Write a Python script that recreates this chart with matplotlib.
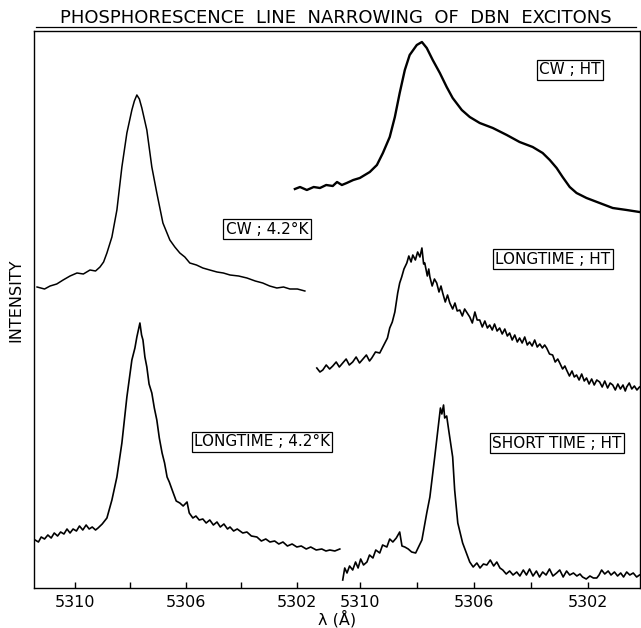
import matplotlib.pyplot as plt

# (wavelength in Angstrom, intensity in arbitrary units); spectra are stacked by offset
# left panel : 4.2 K spectra
cw42 = [(5311.37, 30.1), (5311.10, 29.9), (5310.90, 30.2), (5310.66, 30.4), (5310.43, 30.8),
        (5310.18, 31.2), (5309.93, 31.5), (5309.70, 31.4), (5309.46, 31.8), (5309.26, 31.7),
        (5309.10, 32.1), (5308.97, 32.6), (5308.85, 33.5), (5308.67, 35.1), (5308.49, 37.8),
        (5308.31, 42.1), (5308.13, 45.5), (5307.95, 47.8), (5307.86, 48.7), (5307.77, 49.3),
        (5307.68, 48.9), (5307.59, 48.0), (5307.41, 45.8), (5307.23, 42.1), (5307.05, 39.5),
        (5306.83, 36.5), (5306.58, 34.8), (5306.40, 34.1), (5306.22, 33.5), (5306.04, 33.1),
        (5305.86, 32.5), (5305.62, 32.3), (5305.39, 32.0), (5305.14, 31.8), (5304.88, 31.6),
        (5304.65, 31.5), (5304.41, 31.3), (5304.10, 31.2), (5303.80, 31.0), (5303.50, 30.7),
        (5303.23, 30.5), (5302.98, 30.2), (5302.72, 30.0), (5302.48, 30.1), (5302.25, 29.9),
        (5301.98, 29.9), (5301.71, 29.7)]

long42 = [(5311.44, 4.8), (5311.32, 4.6), (5311.22, 5.1), (5311.10, 4.9), (5310.98, 5.3),
          (5310.86, 5.0), (5310.75, 5.5), (5310.63, 5.2), (5310.52, 5.6), (5310.40, 5.4),
          (5310.29, 5.9), (5310.18, 5.5), (5310.07, 5.9), (5309.95, 5.7), (5309.84, 6.2),
          (5309.72, 5.8), (5309.60, 6.3), (5309.49, 5.9), (5309.38, 6.1), (5309.26, 5.8),
          (5309.17, 6.0), (5309.02, 6.4), (5308.85, 7.0), (5308.67, 8.8), (5308.49, 11.1),
          (5308.31, 14.5), (5308.13, 19.1), (5307.95, 22.8), (5307.84, 24.0), (5307.77, 25.1),
          (5307.66, 26.5), (5307.60, 25.3), (5307.55, 24.8), (5307.48, 23.1), (5307.41, 22.1),
          (5307.33, 20.4), (5307.23, 19.5), (5307.14, 18.0), (5307.05, 16.8), (5306.96, 15.0),
          (5306.86, 13.5), (5306.77, 12.5), (5306.68, 11.1), (5306.60, 10.6), (5306.47, 9.6),
          (5306.35, 8.7), (5306.22, 8.5), (5306.10, 8.2), (5305.96, 8.6), (5305.88, 7.5),
          (5305.75, 7.0), (5305.64, 7.2), (5305.52, 6.8), (5305.39, 6.9), (5305.27, 6.5),
          (5305.14, 6.8), (5305.01, 6.3), (5304.88, 6.6), (5304.76, 6.1), (5304.63, 6.4),
          (5304.50, 5.9), (5304.41, 6.1), (5304.28, 5.7), (5304.15, 5.9), (5303.95, 5.5),
          (5303.80, 5.6), (5303.64, 5.2), (5303.44, 5.1), (5303.28, 4.7), (5303.12, 4.9),
          (5302.97, 4.6), (5302.80, 4.7), (5302.65, 4.4), (5302.50, 4.6), (5302.34, 4.2),
          (5302.17, 4.4), (5302.00, 4.1), (5301.84, 4.2), (5301.66, 3.9), (5301.50, 4.1),
          (5301.30, 3.8), (5301.10, 3.9), (5300.95, 3.7), (5300.81, 3.8), (5300.63, 3.7),
          (5300.45, 3.9)]

# right panel : high temperature spectra
cwht = [(5312.28, 39.9), (5312.10, 40.1), (5311.86, 39.8), (5311.62, 40.1), (5311.40, 40.0),
        (5311.18, 40.3), (5310.95, 40.2), (5310.80, 40.6), (5310.63, 40.3), (5310.46, 40.5),
        (5310.23, 40.8), (5310.00, 41.0), (5309.65, 41.6), (5309.40, 42.3), (5309.19, 43.5),
        (5308.95, 45.1), (5308.77, 47.1), (5308.60, 49.5), (5308.42, 51.8), (5308.25, 53.3),
        (5308.00, 54.3), (5307.82, 54.6), (5307.65, 54.0), (5307.44, 52.8), (5307.19, 51.5),
        (5306.95, 50.1), (5306.74, 49.0), (5306.42, 47.8), (5306.14, 47.1), (5305.79, 46.5),
        (5305.33, 46.0), (5304.84, 45.3), (5304.39, 44.6), (5303.93, 44.1), (5303.58, 43.5),
        (5303.33, 42.8), (5303.09, 42.0), (5302.88, 41.1), (5302.63, 40.1), (5302.39, 39.5),
        (5302.04, 39.0), (5301.58, 38.5), (5301.12, 38.0), (5300.63, 37.8), (5300.18, 37.6)]

longht = [(5311.51, 22.0), (5311.40, 21.6), (5311.30, 21.8), (5311.18, 22.3), (5311.06, 21.9),
          (5310.95, 22.2), (5310.83, 22.6), (5310.72, 22.1), (5310.60, 22.5), (5310.48, 22.9),
          (5310.37, 22.3), (5310.25, 22.6), (5310.13, 23.1), (5310.01, 22.5), (5309.89, 22.9),
          (5309.77, 23.3), (5309.66, 22.7), (5309.58, 23.0), (5309.45, 23.6), (5309.30, 23.5),
          (5309.12, 24.5), (5309.03, 25.0), (5308.95, 26.0), (5308.86, 26.6), (5308.77, 27.6),
          (5308.67, 29.5), (5308.60, 30.5), (5308.53, 31.1), (5308.45, 31.9), (5308.35, 32.5),
          (5308.28, 33.2), (5308.20, 32.6), (5308.14, 33.3), (5308.05, 32.8), (5307.97, 33.6),
          (5307.89, 33.1), (5307.82, 34.0), (5307.76, 32.4), (5307.72, 32.5), (5307.63, 31.2),
          (5307.58, 31.9), (5307.54, 31.1), (5307.46, 30.2), (5307.38, 30.9), (5307.30, 30.5),
          (5307.22, 29.6), (5307.15, 30.2), (5307.09, 29.5), (5307.00, 28.6), (5306.92, 29.3),
          (5306.84, 28.5), (5306.74, 27.9), (5306.66, 28.5), (5306.58, 27.7), (5306.49, 27.8),
          (5306.40, 27.2), (5306.32, 27.9), (5306.14, 27.1), (5306.05, 26.5), (5305.96, 27.6),
          (5305.88, 26.8), (5305.79, 26.8), (5305.70, 26.1), (5305.61, 26.7), (5305.52, 26.0),
          (5305.44, 26.3), (5305.35, 25.8), (5305.27, 26.4), (5305.18, 25.7), (5305.09, 26.0),
          (5305.00, 25.4), (5304.91, 25.9), (5304.82, 25.2), (5304.74, 25.5), (5304.65, 24.8),
          (5304.56, 25.3), (5304.47, 24.6), (5304.39, 25.0), (5304.30, 24.5), (5304.21, 25.1),
          (5304.12, 24.3), (5304.04, 24.6), (5303.95, 24.2), (5303.86, 24.8), (5303.77, 24.1),
          (5303.68, 24.4), (5303.59, 24.0), (5303.51, 24.3), (5303.44, 24.0), (5303.34, 23.4),
          (5303.23, 23.3), (5303.14, 22.6), (5303.05, 22.9), (5302.98, 22.5), (5302.88, 21.9),
          (5302.80, 22.2), (5302.74, 21.8), (5302.64, 21.2), (5302.55, 21.7), (5302.47, 21.1),
          (5302.39, 21.3), (5302.30, 20.8), (5302.21, 21.4), (5302.12, 20.7), (5302.04, 21.0),
          (5301.95, 20.4), (5301.86, 20.9), (5301.77, 20.3), (5301.68, 20.8), (5301.58, 20.6),
          (5301.49, 20.1), (5301.40, 20.7), (5301.30, 20.0), (5301.21, 20.5), (5301.12, 20.3),
          (5301.03, 19.8), (5300.94, 20.4), (5300.85, 19.9), (5300.76, 20.3), (5300.68, 19.7),
          (5300.63, 20.1), (5300.54, 20.5), (5300.45, 19.9), (5300.36, 20.2), (5300.27, 19.8),
          (5300.18, 20.1)]

shortht = [(5310.60, 0.8), (5310.53, 2.0), (5310.45, 1.5), (5310.36, 2.2), (5310.25, 1.8),
           (5310.15, 2.6), (5310.06, 2.0), (5309.97, 2.9), (5309.87, 2.3), (5309.75, 2.6),
           (5309.66, 3.3), (5309.54, 3.0), (5309.44, 3.8), (5309.30, 3.5), (5309.20, 4.3),
           (5309.05, 4.1), (5308.95, 4.9), (5308.84, 4.6), (5308.72, 5.0), (5308.60, 5.6),
           (5308.52, 4.2), (5308.42, 4.1), (5308.30, 3.9), (5308.18, 3.6), (5308.04, 3.5),
           (5307.82, 4.8), (5307.65, 7.5), (5307.54, 9.1), (5307.37, 13.1), (5307.26, 15.8),
           (5307.17, 18.0), (5307.12, 17.4), (5307.06, 18.3), (5307.02, 17.0), (5306.95, 17.2),
           (5306.88, 15.8), (5306.74, 13.1), (5306.67, 9.8), (5306.56, 6.5), (5306.39, 4.5),
           (5306.14, 2.6), (5306.02, 2.1), (5305.89, 2.5), (5305.78, 2.0), (5305.66, 2.4),
           (5305.54, 2.3), (5305.42, 2.8), (5305.30, 2.2), (5305.19, 2.6), (5305.08, 2.0),
           (5304.98, 1.8), (5304.86, 1.4), (5304.74, 1.7), (5304.62, 1.3), (5304.49, 1.6),
           (5304.38, 1.2), (5304.26, 1.8), (5304.15, 1.3), (5304.04, 1.9), (5303.92, 1.2),
           (5303.80, 1.7), (5303.69, 1.1), (5303.58, 1.6), (5303.46, 1.3), (5303.34, 1.9),
           (5303.22, 1.2), (5303.09, 1.5), (5302.98, 1.8), (5302.86, 1.1), (5302.74, 1.7),
           (5302.63, 1.3), (5302.50, 1.5), (5302.38, 1.2), (5302.27, 1.4), (5302.18, 1.1),
           (5302.05, 0.9), (5301.92, 1.2), (5301.80, 1.0), (5301.68, 1.0), (5301.60, 1.3),
           (5301.51, 1.8), (5301.40, 1.4), (5301.28, 1.7), (5301.18, 1.3), (5301.06, 1.6),
           (5300.95, 1.2), (5300.84, 1.5), (5300.74, 1.1), (5300.63, 1.6), (5300.52, 1.3),
           (5300.40, 1.5), (5300.28, 1.1), (5300.18, 1.3)]

ticks = [5310, 5308, 5306, 5304, 5302]
tick_labels = ['5310', '', '5306', '', '5302']

W, H = 641, 628
fig = plt.figure(figsize=(W / 100, H / 100), dpi=100)
rect = [34 / W, 1 - 588 / H, 605.5 / W, 557 / H]


def draw(ax, data, lw=1.2):
    wl, inten = zip(*data)
    ax.plot(wl, inten, color='black', lw=lw)


# left scale axes, also draws the frame
axL = fig.add_axes(rect)
axL.set_xlim(5311.48, 5289.64)
axL.set_ylim(0, 55.7)
draw(axL, cw42, 1.1)
draw(axL, long42)
for s in axL.spines.values():
    s.set_linewidth(1.0)
axL.set_yticks([])

# right scale axes, transparent on top
axR = fig.add_axes(rect)
axR.patch.set_visible(False)
for s in axR.spines.values():
    s.set_visible(False)
axR.set_xlim(5321.44, 5300.18)
axR.set_ylim(0, 55.7)
draw(axR, cwht, 1.7)
draw(axR, longht)
draw(axR, shortht)
axR.set_yticks([])

for ax in (axL, axR):
    ax.set_xticks(ticks)
    ax.set_xticklabels(tick_labels)
    ax.tick_params(axis='x', direction='in', length=4, width=1, labelsize=11.5, pad=5)

fig.text(337 / W, 1 - 619 / H, 'λ (Å)', ha='center', va='center', fontsize=11.5)
fig.text(16 / W, 1 - 300 / H, 'INTENSITY', ha='center', va='center', rotation=90,
         fontsize=11.5)
fig.text(336 / W, 1 - 18 / H, 'PHOSPHORESCENCE  LINE  NARROWING  OF  DBN  EXCITONS',
         ha='center', va='center', fontsize=13)
fig.add_artist(plt.Line2D([36 / W, 636 / W], [1 - 27 / H, 1 - 27 / H], color='black', lw=0.9))

boxes = [('CW ; HT', 570, 70), ('CW ; 4.2°K', 267, 229), ('LONGTIME ; HT', 553, 259),
         ('LONGTIME ; 4.2°K', 262, 442), ('SHORT TIME ; HT', 557, 443)]
for txt, bx, by in boxes:
    fig.text(bx / W, 1 - by / H, txt, ha='center', va='center', fontsize=11,
             bbox=dict(boxstyle='square,pad=0.15', fc='white', ec='black', lw=0.9))

fig.savefig('out.png', dpi=100)
